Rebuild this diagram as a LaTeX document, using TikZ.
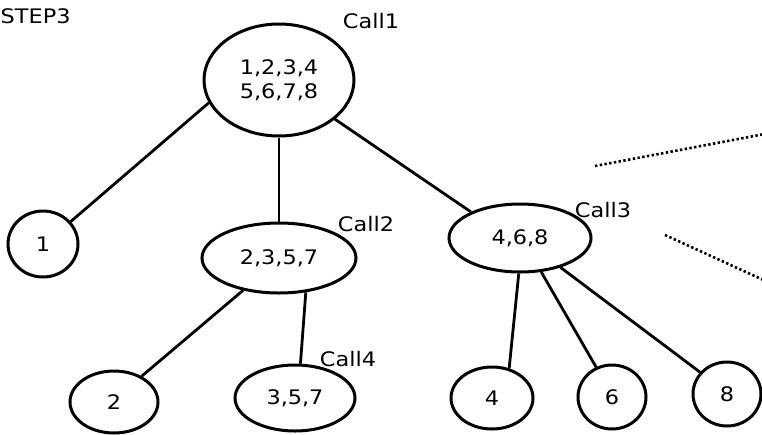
\documentclass[tikz,border=0pt]{standalone}
\usepackage{fontspec}
\setmainfont{DejaVu Sans}[FakeStretch=1.12]
\usetikzlibrary{shapes.geometric}
\begin{document}
\begin{tikzpicture}[x=1pt,y=-1pt,
  setnode/.style={ellipse,draw,line width=3pt,inner sep=0pt,font=\fontsize{20}{24}\selectfont,align=center},
  edge/.style={line width=2.8pt},
  calllabel/.style={font=\fontsize{20}{24}\selectfont,inner sep=0pt},
  trail/.style={line width=2.6pt,dash pattern=on 2.4pt off 2.4pt}]
\useasboundingbox (0,0) rectangle (762,434);

% recursion tree
\node[setnode,minimum width=150pt,minimum height=112pt] (root) at (279,80) {1,2,3,4\\5,6,7,8};
\node[setnode,minimum width=70pt,minimum height=66pt] (n1) at (43,244) {1};
\node[setnode,minimum width=154pt,minimum height=70pt] (n2357) at (279,258) {2,3,5,7};
\node[setnode,minimum width=142pt,minimum height=68pt] (n468) at (520,238) {4,6,8};
\node[setnode,minimum width=88pt,minimum height=62pt] (n2) at (114,402) {2};
\node[setnode,minimum width=120pt,minimum height=66pt] (n357) at (295,398) {3,5,7};
\node[setnode,minimum width=82pt,minimum height=62pt] (n4) at (492,398) {4};
\node[setnode,minimum width=68pt,minimum height=64pt] (n6) at (612,397) {6};
\node[setnode,minimum width=68pt,minimum height=64pt] (n8) at (727,394) {8};

% call labels
\node[calllabel,anchor=west] (step) at (0.5,16) {STEP3};
\node[calllabel] (c1) at (371,21) {Call1};
\node[calllabel] (c2) at (366,224) {Call2};
\node[calllabel] (c3) at (603,210) {Call3};
\node[calllabel] (c4) at (348,359) {Call4};

% edges
\draw[edge] (root.198) -- (n1.39);
\draw[edge] (root.south) -- (n2357.north);
\draw[edge] (root.-35) -- (n468.152);
\draw[edge] (n2357.222) -- (n2.43);
\draw[edge] (n2357.-52) -- (n357.81);
\draw[edge] (n468.-92) -- (n4.60);
\draw[edge] (n468.-58) -- (n6.118);
\draw[edge] (n468.-36) -- (n8.141);

% dotted continuations
\coordinate (d1a) at (595,166);
\coordinate (d1b) at (770,133);
\coordinate (d2a) at (665,235);
\coordinate (d2b) at (770,283);
\draw[trail] (d1a) -- (d1b);
\draw[trail] (d2a) -- (d2b);
\end{tikzpicture}
\end{document}
